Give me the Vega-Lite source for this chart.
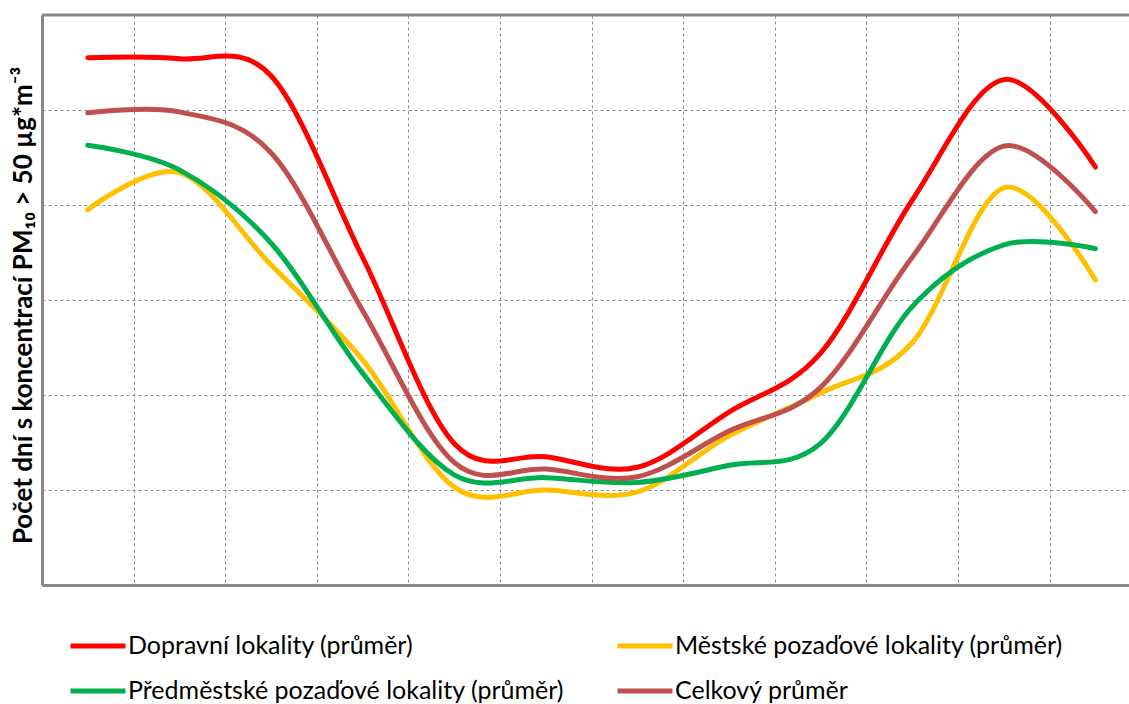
{
  "$schema": "https://vega.github.io/schema/vega-lite/v6.json",
  "width": 1087,
  "height": 570,
  "autosize": {"type": "none"},
  "padding": {"left": 42, "top": 15, "right": 0, "bottom": 119},
  "background": "white",
  "layer": [
    {
      "data": {
        "values": [
          {"month": 1, "series": "Dopravní lokality (průměr)", "value": 55.5},
          {"month": 2, "series": "Dopravní lokality (průměr)", "value": 55.4},
          {"month": 3, "series": "Dopravní lokality (průměr)", "value": 53.6},
          {"month": 4, "series": "Dopravní lokality (průměr)", "value": 34.5},
          {"month": 5, "series": "Dopravní lokality (průměr)", "value": 14.9},
          {"month": 6, "series": "Dopravní lokality (průměr)", "value": 13.5},
          {"month": 7, "series": "Dopravní lokality (průměr)", "value": 12.4},
          {"month": 8, "series": "Dopravní lokality (průměr)", "value": 18.2},
          {"month": 9, "series": "Dopravní lokality (průměr)", "value": 24.4},
          {"month": 10, "series": "Dopravní lokality (průměr)", "value": 40.5},
          {"month": 11, "series": "Dopravní lokality (průměr)", "value": 53.2},
          {"month": 12, "series": "Dopravní lokality (průměr)", "value": 44.0},
          {"month": 1, "series": "Městské pozaďové lokality (průměr)", "value": 39.5},
          {"month": 2, "series": "Městské pozaďové lokality (průměr)", "value": 43.4},
          {"month": 3, "series": "Městské pozaďové lokality (průměr)", "value": 33.7},
          {"month": 4, "series": "Městské pozaďové lokality (průměr)", "value": 23.7},
          {"month": 5, "series": "Městské pozaďové lokality (průměr)", "value": 10.3},
          {"month": 6, "series": "Městské pozaďové lokality (průměr)", "value": 10.0},
          {"month": 7, "series": "Městské pozaďové lokality (průměr)", "value": 9.8},
          {"month": 8, "series": "Městské pozaďové lokality (průměr)", "value": 15.7},
          {"month": 9, "series": "Městské pozaďové lokality (průměr)", "value": 20.2},
          {"month": 10, "series": "Městské pozaďové lokality (průměr)", "value": 25.5},
          {"month": 11, "series": "Městské pozaďové lokality (průměr)", "value": 41.8},
          {"month": 12, "series": "Městské pozaďové lokality (průměr)", "value": 32.1},
          {"month": 1, "series": "Předměstské pozaďové lokality (průměr)", "value": 46.3},
          {"month": 2, "series": "Předměstské pozaďové lokality (průměr)", "value": 43.7},
          {"month": 3, "series": "Předměstské pozaďové lokality (průměr)", "value": 36.0},
          {"month": 4, "series": "Předměstské pozaďové lokality (průměr)", "value": 22.3},
          {"month": 5, "series": "Předměstské pozaďové lokality (průměr)", "value": 11.6},
          {"month": 6, "series": "Předměstské pozaďové lokality (průměr)", "value": 11.3},
          {"month": 7, "series": "Předměstské pozaďové lokality (průměr)", "value": 10.8},
          {"month": 8, "series": "Předměstské pozaďové lokality (průměr)", "value": 12.6},
          {"month": 9, "series": "Předměstské pozaďové lokality (průměr)", "value": 14.9},
          {"month": 10, "series": "Předměstské pozaďové lokality (průměr)", "value": 29.3},
          {"month": 11, "series": "Předměstské pozaďové lokality (průměr)", "value": 35.8},
          {"month": 12, "series": "Předměstské pozaďové lokality (průměr)", "value": 35.4},
          {"month": 1, "series": "Celkový průměr", "value": 49.7},
          {"month": 2, "series": "Celkový průměr", "value": 49.8},
          {"month": 3, "series": "Celkový průměr", "value": 45.5},
          {"month": 4, "series": "Celkový průměr", "value": 28.9},
          {"month": 5, "series": "Celkový průměr", "value": 12.9},
          {"month": 6, "series": "Celkový průměr", "value": 12.2},
          {"month": 7, "series": "Celkový průměr", "value": 11.4},
          {"month": 8, "series": "Celkový průměr", "value": 16.2},
          {"month": 9, "series": "Celkový průměr", "value": 20.8},
          {"month": 10, "series": "Celkový průměr", "value": 34.5},
          {"month": 11, "series": "Celkový průměr", "value": 46.2},
          {"month": 12, "series": "Celkový průměr", "value": 39.3}
        ]
      },
      "mark": {"type": "line", "interpolate": "cardinal", "strokeWidth": 5, "strokeCap": "round"},
      "encoding": {
        "x": {
          "field": "month",
          "type": "quantitative",
          "scale": {"domain": [0.5, 12.367], "nice": false, "zero": false},
          "axis": {
            "title": null,
            "labels": false,
            "ticks": false,
            "values": [1.5, 2.5, 3.5, 4.5, 5.5, 6.5, 7.5, 8.5, 9.5, 10.5, 11.5],
            "grid": true,
            "gridColor": "#8c8c8c",
            "gridDash": [3, 3],
            "gridWidth": 1,
            "domainColor": "#888888",
            "domainWidth": 3
          }
        },
        "y": {
          "field": "value",
          "type": "quantitative",
          "scale": {"domain": [0, 60], "nice": false},
          "axis": {
            "title": "Počet dní s koncentrací PM₁₀ > 50 µg*m⁻³",
            "titleFont": "Lato",
            "titleFontSize": 26,
            "titleFontWeight": "bold",
            "titleColor": "black",
            "titlePadding": 6,
            "titleY": 290,
            "labels": false,
            "ticks": false,
            "values": [10, 20, 30, 40, 50],
            "grid": true,
            "gridColor": "#8c8c8c",
            "gridDash": [3, 3],
            "gridWidth": 1,
            "domainColor": "#888888",
            "domainWidth": 3
          }
        },
        "color": {
          "field": "series",
          "type": "nominal",
          "scale": {
            "domain": [
              "Dopravní lokality (průměr)",
              "Městské pozaďové lokality (průměr)",
              "Předměstské pozaďové lokality (průměr)",
              "Celkový průměr"
            ],
            "range": ["#ff0000", "#ffc000", "#00b050", "#c0504d"]
          },
          "legend": {
            "title": null,
            "orient": "none",
            "legendX": 26,
            "legendY": 601,
            "direction": "horizontal",
            "columns": 2,
            "columnPadding": 42,
            "rowPadding": 2,
            "symbolType": "stroke",
            "symbolSize": 3025,
            "symbolStrokeWidth": 5,
            "labelFont": "Lato",
            "labelFontSize": 25,
            "labelColor": "black",
            "labelOffset": 0,
            "labelLimit": 700
          }
        }
      }
    },
    {
      "data": {"values": [{"edge": "top"}]},
      "mark": {"type": "rule", "color": "#888888", "strokeWidth": 3},
      "encoding": {
        "y": {"datum": 60, "type": "quantitative"}
      }
    }
  ],
  "config": {
    "view": {"stroke": null}
  }
}
